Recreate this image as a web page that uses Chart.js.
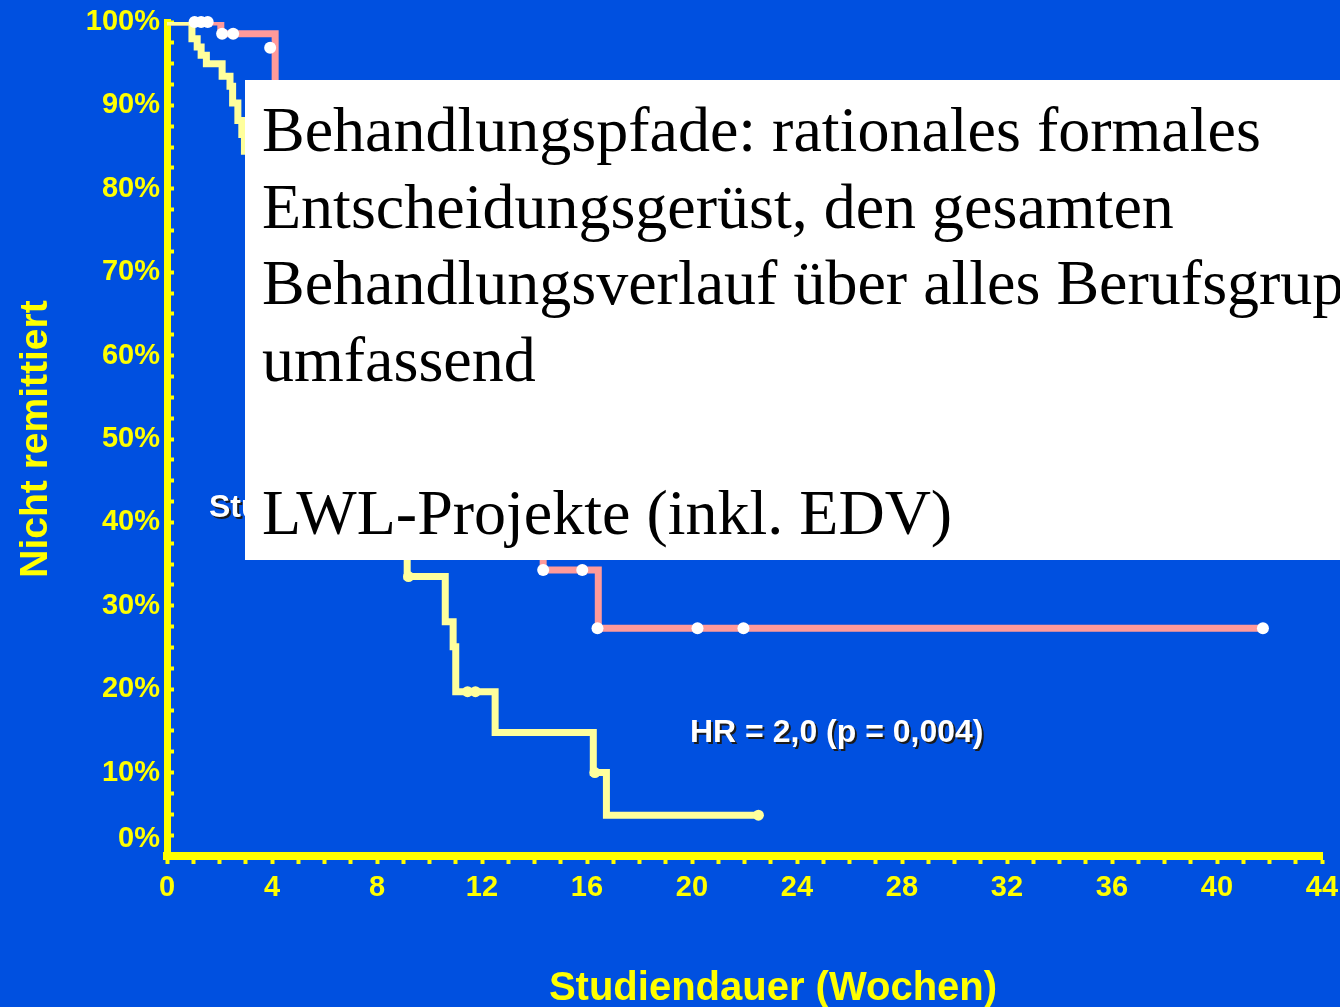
<!DOCTYPE html>
<html>
<head>
<meta charset="utf-8">
<script src="https://cdn.jsdelivr.net/npm/chart.js@4"></script>
<style>
  html, body { margin: 0; padding: 0; width: 1340px; height: 1007px; overflow: hidden; background: #0050e0; }
  #wrap { position: relative; width: 1340px; height: 1007px; overflow: hidden; }
  #km { position: absolute; left: 0; top: 0; }
  .note { position: absolute; font-family: "Liberation Sans", Arial, sans-serif; font-weight: bold; font-size: 32px; line-height: 1; color: #fff; text-shadow: 2px 2px 0 #1b1b1b; white-space: nowrap; }
  #xtitle { position: absolute; left: 773px; top: 966px; transform: translateX(-50%); font-family: "Liberation Sans", Arial, sans-serif; font-weight: bold; font-size: 40px; line-height: 1; color: #ffff00; white-space: nowrap; }
  #box { position: absolute; left: 245px; top: 80px; width: 1200px; height: 480px; background: #fff; box-sizing: border-box; padding: 12px 0 0 17px; font-family: "Liberation Serif", "Times New Roman", serif; font-size: 64px; line-height: 76.6px; color: #000; white-space: pre; }
</style>
</head>
<body>
<div id="wrap">
  <canvas id="km" width="1340" height="1007"></canvas>
  <div class="note" style="left:209px; top:490px;">Studienbehandlung</div>
  <div class="note" style="left:690px; top:715px;">HR = 2,0 (p = 0,004)</div>
  <div id="xtitle">Studiendauer (Wochen)</div>
  <div id="box">Behandlungspfade: rationales formales
Entscheidungsgerüst, den gesamten
Behandlungsverlauf über alles Berufsgruppen
umfassend

LWL-Projekte (inkl. EDV)</div>
</div>
<script>
// Kaplan-Meier steps: weeks and % not remitted
const pinkWeeks = [0, 2.05, 4.12, 5.0, 6.0, 7.0, 8.0, 9.0, 10.0, 11.0, 12.5, 14.33, 16.43, 41.75];
const pinkPct   = [100, 98.6, 88, 80, 72, 65, 58, 52, 47, 43, 38.5, 34.3, 27.3, 27.3];
const yellowWeeks = [0, 0.95, 1.15, 1.3, 1.5, 2.1, 2.4, 2.5, 2.7, 2.85, 2.95, 3.3, 3.7, 4.2, 4.8, 5.4, 6.0, 6.6, 7.2, 7.8, 8.4, 9.15, 10.6, 10.9, 11.0, 12.5, 16.24, 16.74, 22.53];
const yellowPct   = [100, 98, 97, 96, 95, 93.5, 92.3, 90.3, 88.2, 86.5, 84.5, 80, 75, 70, 65, 60, 55, 50, 46, 42, 38, 33.5, 28.1, 25.1, 19.7, 14.8, 10, 4.9, 4.9];

// censored observations
const pinkCensorWeeks = [1.05, 1.3, 1.55, 2.1, 2.52, 3.93, 14.33, 15.82, 16.4, 20.21, 21.96, 41.75];
const pinkCensorPct   = [100, 100, 100, 98.6, 98.6, 96.9, 34.3, 34.3, 27.3, 27.3, 27.3, 27.3];
const yellowCensorWeeks = [9.2, 11.45, 11.75, 16.3, 22.53];
const yellowCensorPct   = [33.5, 19.7, 19.7, 10, 4.9];

const xTickLabels = ["0", "4", "8", "12", "16", "20", "24", "28", "32", "36", "40", "44"];
const yTickLabels = ["0%", "10%", "20%", "30%", "40%", "50%", "60%", "70%", "80%", "90%", "100%"];

const zip = (xs, ys) => xs.map((x, i) => ({ x: x, y: ys[i] }));

const AXIS = "#ffff00";
const PINK = "#ff9a9a";
const PALE = "#ffff9c";

Chart.defaults.font.family = '"Liberation Sans", Arial, sans-serif';

new Chart(document.getElementById("km"), {
    type: "line",
    data: {
        datasets: [
            {
                label: "pink censored",
                type: "scatter",
                data: zip(pinkCensorWeeks, pinkCensorPct),
                pointRadius: 6,
                pointBackgroundColor: "#ffffff",
                pointBorderWidth: 0,
                showLine: false,
                clip: false,
                order: 0,
            },
            {
                label: "yellow censored",
                type: "scatter",
                data: zip(yellowCensorWeeks, yellowCensorPct),
                pointRadius: 5.5,
                pointBackgroundColor: PALE,
                pointBorderWidth: 0,
                showLine: false,
                clip: false,
                order: 1,
            },
            {
                label: "yellow",
                data: zip(yellowWeeks, yellowPct),
                stepped: true,
                borderColor: PALE,
                borderWidth: 7,
                pointRadius: 0,
                fill: false,
                order: 2,
            },
            {
                label: "pink",
                data: zip(pinkWeeks, pinkPct),
                stepped: true,
                borderColor: PINK,
                borderWidth: 7,
                pointRadius: 0,
                fill: false,
                order: 3,
            },
        ],
    },
    options: {
        responsive: false,
        animation: false,
        layout: { padding: { top: 22, right: 18, left: 0, bottom: 0 } },
        plugins: { legend: { display: false }, tooltip: { enabled: false } },
        scales: {
            x: {
                type: "linear",
                min: 0,
                max: 44,
                // fixed axis band so the plot area lines up with the slide
                afterFit: (s) => { s.height = 151; s.paddingLeft = 0; s.paddingRight = 0; },
                ticks: {
                    stepSize: 1,
                    autoSkip: false,
                    maxRotation: 0,
                    padding: 7,
                    color: AXIS,
                    font: { size: 29, weight: "bold" },
                    callback: (v) => (v % 4 === 0 ? xTickLabels[v / 4] : ""),
                },
                grid: { drawOnChartArea: false, tickLength: 8, tickWidth: 4, color: AXIS },
                border: { color: AXIS, width: 8 },
            },
            y: {
                min: 0,
                max: 100,
                afterFit: (s) => { s.width = 167; s.paddingTop = 0; s.paddingBottom = 0; },
                ticks: {
                    stepSize: 2.5,
                    autoSkip: false,
                    padding: 14,
                    color: AXIS,
                    font: { size: 29, weight: "bold" },
                    // the 0% label sits a bit above the axis line
                    callback: (v) => (v % 10 === 0 ? (v === 0 ? [yTickLabels[0], ""] : yTickLabels[v / 10]) : ""),
                },
                grid: { drawOnChartArea: false, tickLength: -7, tickWidth: 4, color: AXIS },
                border: { color: AXIS, width: 7 },
                title: {
                    display: true,
                    text: "Nicht remittiert",
                    color: AXIS,
                    font: { size: 39, weight: "bold" },
                    padding: { top: 13, bottom: 0 },
                },
            },
        },
    },
});
</script>
</body>
</html>
